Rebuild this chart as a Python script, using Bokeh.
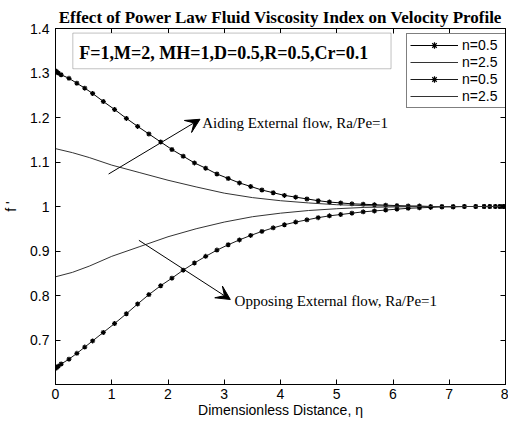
from bokeh.plotting import figure
from bokeh.models import (Range1d, FixedTicker, LinearAxis, Label, Arrow, VeeHead,
                          Legend, LegendItem, BoxAnnotation)
from bokeh.embed import file_html
from bokeh.resources import INLINE

# ---------------- data ----------------
eta_mesh = [0.0, 0.02, 0.05, 0.10, 0.24, 0.38, 0.52, 0.66, 0.85, 1.05, 1.26, 1.46,
            1.66, 1.87, 2.07, 2.27, 2.47, 2.67, 2.87, 3.07, 3.27, 3.47, 3.67, 3.87,
            4.07, 4.27, 4.47, 4.67, 4.87, 5.07, 5.27, 5.47, 5.67, 5.87, 6.07, 6.27,
            6.47, 6.67, 6.87, 7.07, 7.27, 7.47, 7.62, 7.72, 7.82, 7.90, 7.96, 8.00]

aiding_n05 = [1.305, 1.303, 1.300, 1.296, 1.288, 1.277, 1.266, 1.254, 1.236, 1.218,
              1.198, 1.180, 1.163, 1.145, 1.128, 1.113, 1.098, 1.086, 1.073, 1.063,
              1.053, 1.045, 1.037, 1.031, 1.025, 1.021, 1.017, 1.013, 1.010, 1.008,
              1.006, 1.005, 1.004, 1.003, 1.002, 1.001, 1.001, 1.000, 1.000, 1.000,
              1.000, 1.000, 1.000, 1.000, 1.000, 1.000, 1.000, 1.000]

opposing_n05 = [0.636, 0.638, 0.641, 0.646, 0.657, 0.670, 0.684, 0.698, 0.717, 0.737,
                0.759, 0.781, 0.802, 0.822, 0.839, 0.857, 0.873, 0.888, 0.902, 0.914,
                0.925, 0.935, 0.944, 0.952, 0.959, 0.965, 0.970, 0.975, 0.979, 0.982,
                0.985, 0.988, 0.990, 0.992, 0.994, 0.996, 0.997, 0.998, 0.999, 0.999,
                1.000, 1.000, 1.000, 1.000, 1.000, 1.000, 1.000, 1.000]

eta_coarse = [0.0, 0.3, 0.6, 1.0, 1.5, 2.0, 2.5, 3.0, 3.5, 4.0, 4.5, 5.0, 5.5, 6.0,
              6.5, 7.0, 7.5, 8.0]
aiding_n25 = [1.130, 1.121, 1.110, 1.093, 1.076, 1.059, 1.044, 1.030, 1.020, 1.013,
              1.008, 1.004, 1.002, 1.001, 1.000, 1.000, 1.000, 1.000]
opposing_n25 = [0.842, 0.852, 0.866, 0.888, 0.910, 0.932, 0.950, 0.965, 0.977, 0.985,
                0.991, 0.995, 0.998, 0.999, 1.000, 1.000, 1.000, 1.000]

x_ticks = [0, 1, 2, 3, 4, 5, 6, 7, 8]
y_ticks = [0.7, 0.8, 0.9, 1, 1.1, 1.2, 1.3, 1.4]
y_tick_labels = ["0.7", "0.8", "0.9", "1", "1.1", "1.2", "1.3", "1.4"]

title_text = "Effect of Power Law Fluid Viscosity Index on Velocity Profile"
params_text = "F=1,M=2, MH=1,D=0.5,R=0.5,Cr=0.1"
aiding_text = "Aiding External flow, Ra/Pe=1"
opposing_text = "Opposing External flow, Ra/Pe=1"
x_label = "Dimensionless Distance, \u03b7"
y_label = "f '"
legend_labels = ["n=0.5", "n=2.5", "n=0.5", "n=2.5"]

SANS = "Liberation Sans"
SERIF = "Liberation Serif"

# ---------------- figure ----------------
p = figure(width=508, height=420, x_range=Range1d(0, 8), y_range=Range1d(0.6, 1.4),
           output_backend="svg", toolbar_location=None,
           min_border_left=53, min_border_right=3, min_border_top=28,
           min_border_bottom=36, background_fill_color="white",
           border_fill_color="white")
p.grid.visible = False
p.outline_line_color = "black"
p.outline_line_width = 1

p.title.text = title_text
p.title.text_font = SERIF
p.title.text_font_style = "bold"
p.title.text_font_size = "17px"
p.title.text_color = "black"
p.title.align = "center"
p.title.standoff = 3

xa = p.xaxis[0]
ya = p.yaxis[0]
xa.ticker = FixedTicker(ticks=x_ticks)
ya.ticker = FixedTicker(ticks=y_ticks)
ya.major_label_overrides = {str(t): l for t, l in zip(y_ticks, y_tick_labels)}
for ax in (xa, ya):
    ax.major_tick_in = 5
    ax.major_tick_out = 0
    ax.minor_tick_line_color = None
    ax.axis_line_color = "black"
    ax.major_tick_line_color = "black"
    ax.major_label_text_font = SANS
    ax.major_label_text_font_size = "14px"
    ax.major_label_text_color = "black"
    ax.axis_label_text_font = SANS
    ax.axis_label_text_font_size = "14px"
    ax.axis_label_text_font_style = "normal"
    ax.axis_label_text_color = "black"
xa.major_label_standoff = 4
ya.major_label_standoff = 6
xa.axis_label = x_label
xa.axis_label_standoff = 0
ya.axis_label = y_label
ya.axis_label_standoff = 8

top_ax = LinearAxis(ticker=FixedTicker(ticks=x_ticks), major_label_text_font_size="1px",
                    major_label_text_color=None, major_tick_in=5, major_tick_out=0,
                    minor_tick_line_color=None, major_label_standoff=0,
                    axis_line_color="black")
right_ax = LinearAxis(ticker=FixedTicker(ticks=y_ticks), major_label_text_font_size="1px",
                      major_label_text_color=None, major_tick_in=5, major_tick_out=0,
                      minor_tick_line_color=None, major_label_standoff=0,
                      axis_line_color="black")
p.add_layout(top_ax, "above")
p.add_layout(right_ax, "right")

# ---------------- curves ----------------
l1 = p.line(eta_mesh, aiding_n05, line_color="black", line_width=1)
s1 = p.scatter(eta_mesh, aiding_n05, marker="asterisk", size=5, line_color="black",
               line_width=1.2)
l2 = p.line(eta_coarse, aiding_n25, line_color="#333333", line_width=1)
l3 = p.line(eta_mesh, opposing_n05, line_color="#1a1a1a", line_width=1)
s3 = p.scatter(eta_mesh, opposing_n05, marker="asterisk", size=5, line_color="black",
               line_width=1.2)
l4 = p.line(eta_coarse, opposing_n25, line_color="#333333", line_width=1)

# ---------------- annotations ----------------
box = BoxAnnotation(left=0.308, right=5.965, bottom=1.3095, top=1.3897,
                    fill_color="white", fill_alpha=1, line_color="#333333",
                    line_width=1)
p.add_layout(box)
p.add_layout(Label(x=2.99, y=1.3445, text=params_text, text_font=SERIF,
                   text_font_style="bold", text_font_size="18px", text_align="center",
                   text_baseline="middle", text_color="black"))

p.add_layout(Arrow(end=VeeHead(size=14, fill_color="black", line_color="black"),
                   x_start=0.944, y_start=1.073, x_end=2.569, y_end=1.196,
                   line_color="black", line_width=1))
p.add_layout(Arrow(end=VeeHead(size=14, fill_color="black", line_color="black"),
                   x_start=1.483, y_start=0.924, x_end=3.108, y_end=0.791,
                   line_color="black", line_width=1))
p.add_layout(Label(x=2.609, y=1.187, text=aiding_text, text_font=SERIF,
                   text_font_size="15px", text_align="left", text_baseline="middle",
                   text_color="black"))
p.add_layout(Label(x=3.183, y=0.788, text=opposing_text, text_font=SERIF,
                   text_font_size="15px", text_align="left", text_baseline="middle",
                   text_color="black"))

# ---------------- legend ----------------
legend = Legend(items=[LegendItem(label=legend_labels[0], renderers=[l1, s1]),
                       LegendItem(label=legend_labels[1], renderers=[l2]),
                       LegendItem(label=legend_labels[2], renderers=[l3, s3]),
                       LegendItem(label=legend_labels[3], renderers=[l4])],
                location=(351, 276), margin=0, padding=3, spacing=1,
                glyph_width=48, glyph_height=16, label_height=16, label_standoff=4,
                label_width=43, label_text_font=SANS, label_text_font_size="14px",
                label_text_color="black", border_line_color="black",
                border_line_width=1, background_fill_color="white",
                background_fill_alpha=1)
p.add_layout(legend)

open("out.html", "w").write(file_html(p, INLINE))
